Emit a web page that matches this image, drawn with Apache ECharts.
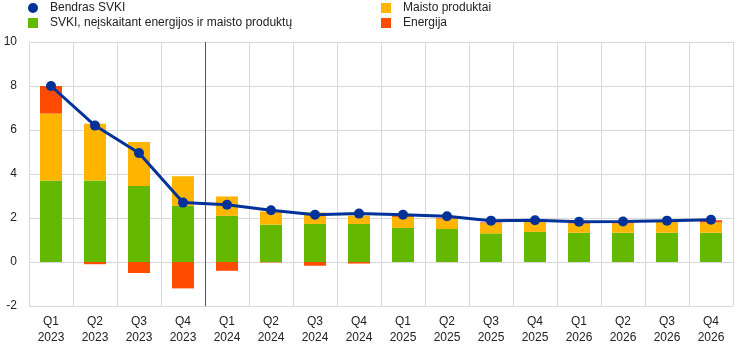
<!DOCTYPE html>
<html>
<head>
<meta charset="utf-8">
<script src="https://cdn.jsdelivr.net/npm/echarts@6/dist/echarts.min.js"></script>
<style>
  html, body { margin: 0; padding: 0; background: #fff; }
  #chart { width: 744px; height: 346px; }
</style>
</head>
<body>
<div id="chart"></div>
<script>
// Quarters on the horizontal axis
const categories = [
  'Q1\n2023', 'Q2\n2023', 'Q3\n2023', 'Q4\n2023',
  'Q1\n2024', 'Q2\n2024', 'Q3\n2024', 'Q4\n2024',
  'Q1\n2025', 'Q2\n2025', 'Q3\n2025', 'Q4\n2025',
  'Q1\n2026', 'Q2\n2026', 'Q3\n2026', 'Q4\n2026'
];

// Headline HICP (line)
const headline = [8.0, 6.2, 4.95, 2.7, 2.6, 2.35, 2.15, 2.2, 2.15, 2.08, 1.88, 1.9, 1.83, 1.84, 1.88, 1.92];

// Contributions (stacked bars)
const core = [3.7, 3.7, 3.45, 2.55, 2.1, 1.7, 1.73, 1.73, 1.55, 1.5, 1.3, 1.37, 1.33, 1.33, 1.33, 1.33];
const food = [3.05, 2.58, 2.0, 1.35, 0.88, 0.6, 0.52, 0.38, 0.5, 0.48, 0.46, 0.47, 0.42, 0.43, 0.49, 0.47];
const energy = [1.25, -0.1, -0.5, -1.2, -0.4, -0.02, -0.17, -0.07, 0.06, 0.03, 0.04, 0.02, 0.03, 0.03, 0.03, 0.1];

// Position (in quarters from the left edge) of the projection cut-off line
const cutoffPosition = [4];

const yTicks = { min: -2, max: 10, step: 2 };

const names = {
  headline: 'Bendras SVKI',
  core: 'SVKI, neįskaitant energijos ir maisto produktų',
  food: 'Maisto produktai',
  energy: 'Energija'
};

const font = 'Arial, "Liberation Sans", sans-serif';
const gridColor = '#d9d9d9';

const legendBase = {
  top: 2, orient: 'vertical', itemGap: 3, padding: 0,
  itemWidth: 10, itemHeight: 10,
  textStyle: { fontSize: 12, color: '#222', fontFamily: font, padding: [0, 0, 0, 7] }
};

const chart = echarts.init(document.getElementById('chart'), null, { renderer: 'canvas' });

chart.setOption({
  animation: false,
  textStyle: { fontFamily: font },
  legend: [
    Object.assign({}, legendBase, {
      left: 28,
      data: [
        { name: names.headline, icon: 'circle' },
        { name: names.core, icon: 'rect' }
      ]
    }),
    Object.assign({}, legendBase, {
      left: 381,
      data: [
        { name: names.food, icon: 'rect' },
        { name: names.energy, icon: 'rect' }
      ]
    })
  ],
  grid: { left: 29, right: 11, top: 42, bottom: 39, containLabel: false },
  xAxis: [
    {
      type: 'category',
      data: categories,
      boundaryGap: true,
      axisLine: { show: false },
      axisTick: { show: false },
      splitLine: { show: true, interval: 0, lineStyle: { color: gridColor, width: 1 } },
      axisLabel: {
        interval: 0, fontSize: 12, color: '#222', lineHeight: 16, margin: 8, fontFamily: font
      }
    },
    {
      type: 'value', min: 0, max: categories.length, show: false
    }
  ],
  yAxis: {
    type: 'value',
    min: yTicks.min, max: yTicks.max, interval: yTicks.step,
    axisLine: { show: false },
    axisTick: { show: false },
    splitLine: { show: true, lineStyle: { color: gridColor, width: 1 } },
    axisLabel: { fontSize: 12, color: '#222', margin: 12, fontFamily: font }
  },
  series: [
    {
      name: names.core, type: 'bar', stack: 'hicp', data: core,
      barWidth: '50%', itemStyle: { color: '#65b800' }
    },
    {
      name: names.food, type: 'bar', stack: 'hicp', data: food,
      barWidth: '50%', itemStyle: { color: '#ffb400' }
    },
    {
      name: names.energy, type: 'bar', stack: 'hicp', data: energy,
      barWidth: '50%', itemStyle: { color: '#ff4b00' }
    },
    {
      name: names.headline, type: 'line', data: headline,
      symbol: 'circle', symbolSize: 10, z: 5,
      lineStyle: { color: '#003299', width: 3 },
      itemStyle: { color: '#003299' }
    },
    {
      type: 'line', xAxisIndex: 1, data: [], silent: true,
      markLine: {
        silent: true, symbol: 'none', label: { show: false },
        lineStyle: { color: '#555', type: 'solid', width: 1 },
        data: cutoffPosition.map(v => ({ xAxis: v }))
      }
    }
  ]
});
</script>
</body>
</html>
